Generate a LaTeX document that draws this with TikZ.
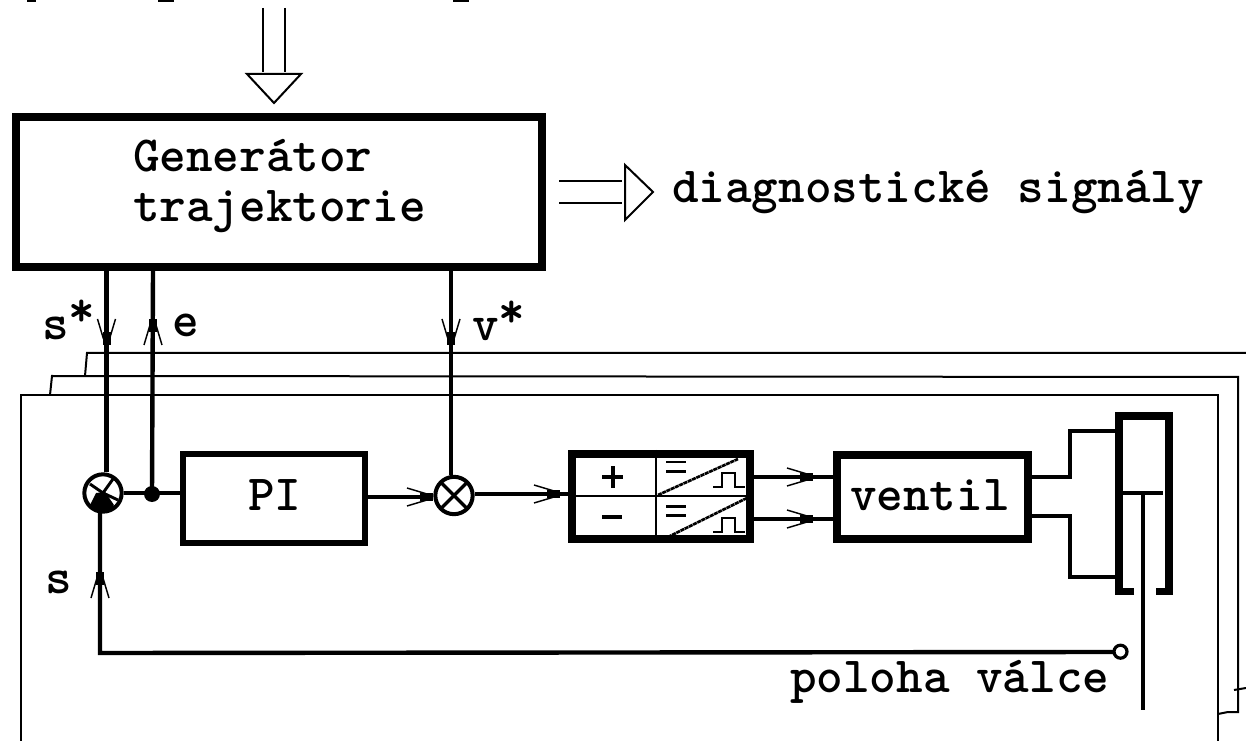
\documentclass[tikz,border=0pt]{standalone}
\usepackage{fontspec}
\newcommand{\rstar}{\raisebox{10pt}{*}}
\tikzset{
  x=0.75pt,y=-0.75pt,
  lbl/.style={anchor=base west,inner sep=0pt,outer sep=0pt,font=\fontsize{38pt}{40pt}\selectfont\ttfamily\bfseries\addfontfeature{FakeBold=0.6}},
  blockbox/.style={draw,rectangle,inner sep=0pt},
  wire/.style={line width=3.3pt,line join=miter},
  thin frame/.style={line width=1.5pt},
  hollow/.style={line width=1.5pt,line join=miter},
  sumj/.style={draw,circle,line width=3pt,minimum size=28pt,inner sep=0pt,fill=white},
  barb/.pic={
    \draw[line width=1.1pt] (-24,-9) -- (-4,-3);
    \draw[line width=1.1pt] (-24,9) -- (-4,3);
    \fill (-11,-4) -- (2,-4) -- (2,4) -- (-11,4) -- cycle;
  }
}
\begin{document}
\begin{tikzpicture}
\useasboundingbox (0,0) rectangle (1246,741);
\fill[white] (0,0) rectangle (1246,741);

% stacked frames
\draw[thin frame] (21,741) -- (21,395) -- (1218,395) -- (1218,741);
\draw[thin frame] (50,395) -- (52,376) -- (1238,377) -- (1238,712) -- (1228,712) -- (1218,714);
\draw[thin frame] (85,376) -- (87,353) -- (1246,353);
\draw[thin frame] (1234,690) -- (1246,688);

% clipped remains of a text line at the top edge
\foreach \px/\pw in {27/9,158/16,453/16}{\fill (\px,0) rectangle ++(\pw,2);}

% blocks
\node[blockbox,line width=6pt,minimum width=394.5pt,minimum height=112.5pt] (gen) at (279,192) {};
\node[blockbox,line width=4.5pt,minimum width=136.5pt,minimum height=66.75pt] (pi) at (274,498.5) {};
\node[blockbox,line width=6pt,minimum width=133.5pt,minimum height=63.75pt] (mod) at (661,496.5) {};
\node[blockbox,line width=6pt,minimum width=143.25pt,minimum height=63pt] (vent) at (932.5,497) {};
\node[sumj] (sa) at (103,493) {};
\node[sumj] (sb) at (454,495.5) {};
\fill (152,494) circle[radius=8] coordinate (dot);
\draw[line width=2.4pt,fill=white] (1120.5,651.7) circle[radius=6.5];
\coordinate (pos) at (1114,652);

% summing junction internals
\draw[line width=2.2pt] (sa.center) -- ++(-13,-9) (sa.center) -- ++(10,-14) (sa.center) -- ++(15,7);
\fill (sa.center) ++(-13,12) -- ++(6,-12) -- ++(9,-1) -- ++(9,13) -- ++(-5,7) -- ++(-14,0) -- cycle;
\draw[line width=2.4pt] (sb.center) ++(-13,-13) -- ++(26,26);
\draw[line width=2.4pt] (sb.center) ++(13,-13) -- ++(-26,26);

% mod block internals
\draw[line width=2pt] (mod.north -| 656,0) -- (mod.south -| 656,0);
\draw[line width=2pt] (mod.west |- 0,496) -- (mod.east |- 0,496);
\draw[line width=3pt] (602,477) -- (623,477) (613,466) -- (613,488);
\draw[line width=3.2pt] (602,517) -- (622,517);
\draw[line width=2pt] (666,462) -- (686,462) (666,471.5) -- (686,471.5);
\draw[line width=2pt] (666,506.5) -- (686,506.5) (666,515.5) -- (686,515.5);
\draw[line width=2pt,dash pattern=on 3pt off 0.5pt] (658,495) -- (738,459);
\draw[line width=2pt,dash pattern=on 3pt off 0.5pt] (668,537) -- (747,498);
\draw[line width=2pt] (713,487) -- (722,487) -- (722,473) -- (735,473) -- (735,487) -- (745,487);
\draw[line width=2pt] (713,532) -- (722,532) -- (722,518) -- (735,518) -- (735,532) -- (745,532);

% connectors
\draw[wire] (gen.south -| 106.5,0) -- (sa.north -| 106.5,0);
\draw[wire] (gen.south -| 153,0) -- (dot);
\draw[wire] (gen.south -| 451,0) -- (sb.north -| 451,0);
\draw[line width=2.7pt] (sa.east) -- (pi.west |- sa.east);
\draw[line width=2.7pt] (pi.east |- 0,497) -- (sb.west |- 0,497);
\draw[line width=2.7pt] (sb.east |- 0,494) -- (mod.west |- 0,494);
\draw[wire] (mod.east |- 0,477) -- (vent.west |- 0,477);
\draw[wire] (mod.east |- 0,519) -- (vent.west |- 0,519);
\draw[wire] (100,510) -- (100,653) -- (pos);
\draw[wire] (vent.east |- 0,477) -- (1070,477) -- (1070,431) -- (1115,431);
\draw[wire] (vent.east |- 0,516) -- (1070,516) -- (1070,577) -- (1115,577);

% cylinder
\draw[line width=5.6pt,line join=miter] (1134,591.5) -- (1119,591.5) -- (1119,416) -- (1169,416) -- (1169,591.5) -- (1156,591.5);
\draw[line width=2.7pt] (1123,493) -- (1163,493);
\draw[line width=3.3pt] (1143,493) -- (1143,710);

% mid-line arrowheads
\pic[rotate=-90] at (106.5,343) {barb};
\pic[rotate=90] at (153,321) {barb};
\pic[rotate=-90] at (451,343) {barb};
\pic[rotate=90] at (100,574) {barb};
\pic at (431,497) {barb};
\pic at (558,494) {barb};
\pic at (811,477) {barb};
\pic at (811,519) {barb};

% hollow double arrows
\draw[hollow] (263,8) -- (263,72);
\draw[hollow] (285,8) -- (285,72);
\draw[hollow] (247,74) -- (301,74) -- (274,103) -- cycle;
\draw[hollow] (559,181) -- (622,181);
\draw[hollow] (559,203) -- (622,203);
\draw[hollow] (625,165) -- (653,192) -- (625,220) -- cycle;

% labels
\node[lbl] (t1) at (133,172) {Generátor};
\node[lbl] (t2) at (133,222) {trajektorie};
\node[lbl] (t3) at (672,203) {diagnostické signály};
\node[lbl] (t4) at (42,340) {s\rstar};
\node[lbl] (t5) at (172,337) {e};
\node[lbl] (t6) at (472,341) {v\rstar};
\node[lbl] (t7) at (45,593) {s};
\node[lbl] (t8) at (248,510) {PI};
\node[lbl] (t9) at (850,510) {ventil};
\node[lbl] (t10) at (790,692) {poloha válce};
\end{tikzpicture}
\end{document}
